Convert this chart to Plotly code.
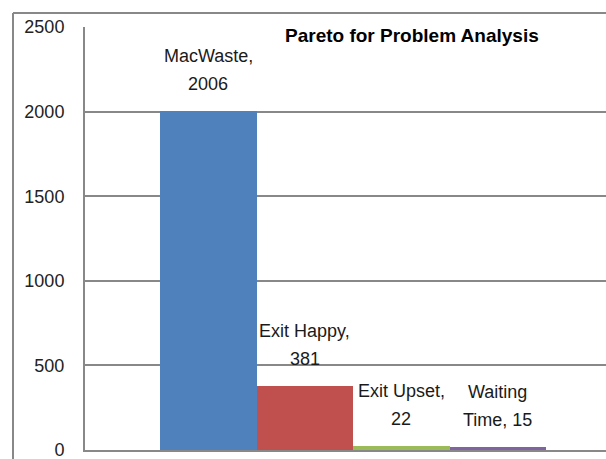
import plotly.graph_objects as go

# ---- data ----
categories = ["MacWaste", "Exit Happy", "Exit Upset", "Waiting Time"]
label_line1 = ["MacWaste,", "Exit Happy,", "Exit Upset,", "Waiting"]
label_line2_prefix = ["", "", "", "Time, "]
values = [2006, 381, 22, 15]
colors = ["#4F81BD", "#C0504D", "#9BBB59", "#8064A2"]
y_ticks = [0, 500, 1000, 1500, 2000, 2500]
title_text = "Pareto for Problem Analysis"

FONT = "Liberation Sans Narrow, Arial Narrow, Liberation Sans, sans-serif"

W, H = 606, 459
L, R, T, B = 85, 0, 27, 9
pw, ph = W - L - R, H - T - B

xs = list(range(len(categories)))

fig = go.Figure()
fig.add_trace(go.Bar(
    x=xs, y=values, width=1.0,
    marker=dict(color=colors, line=dict(width=0)),
    hoverinfo="skip", showlegend=False,
))

for x, v, l1, p2 in zip(xs, values, label_line1, label_line2_prefix):
    fig.add_annotation(x=x, y=v, text=l1, showarrow=False, xanchor="center",
                       yanchor="middle", yshift=55,
                       font=dict(family=FONT, size=18, color="#1a1a1a"))
    fig.add_annotation(x=x, y=v, text=f"{p2}{v}", showarrow=False, xanchor="center",
                       yanchor="middle", yshift=27,
                       font=dict(family=FONT, size=18, color="#1a1a1a"))

fig.add_annotation(xref="paper", yref="paper", x=(283 - L) / pw, y=(H - B - 35) / ph,
                   xanchor="left", yanchor="middle", text="<b>" + title_text + "</b>",
                   showarrow=False, font=dict(family=FONT, size=19, color="#000000"))

# outer chart border (partly visible)
bx = (13 - L) / pw
by = (H - B - 13) / ph
ybot = (H - B - H - 5) / ph
fig.add_shape(type="line", xref="paper", yref="paper", x0=bx, x1=bx, y0=ybot, y1=by,
              line=dict(color="#888888", width=2))
fig.add_shape(type="line", xref="paper", yref="paper", x0=bx, x1=1.05, y0=by, y1=by,
              line=dict(color="#888888", width=2))

bar_px = 96.5
x0 = -0.5 - (160 - L) / bar_px
x1 = x0 + pw / bar_px

fig.update_layout(
    width=W, height=H,
    margin=dict(l=L, r=R, t=T, b=B, pad=0, autoexpand=False),
    paper_bgcolor="white", plot_bgcolor="white",
    xaxis=dict(range=[x0, x1], showticklabels=False, showgrid=False, zeroline=False,
               showline=True, linecolor="#888888", linewidth=2, ticks="", automargin=False),
    yaxis=dict(range=[0, 2500], tickvals=y_ticks, showgrid=True, gridcolor="#888888",
               gridwidth=2, zeroline=False, showline=True, linecolor="#888888",
               linewidth=2, ticks="", ticklabelstandoff=15, automargin=False,
               ticklabeloverflow="allow",
               tickfont=dict(family=FONT, size=18, color="#222222")),
    bargap=0,
)

fig.write_html("out.html", config={"displayModeBar": False},
               post_script="document.body.style.margin='0';")
